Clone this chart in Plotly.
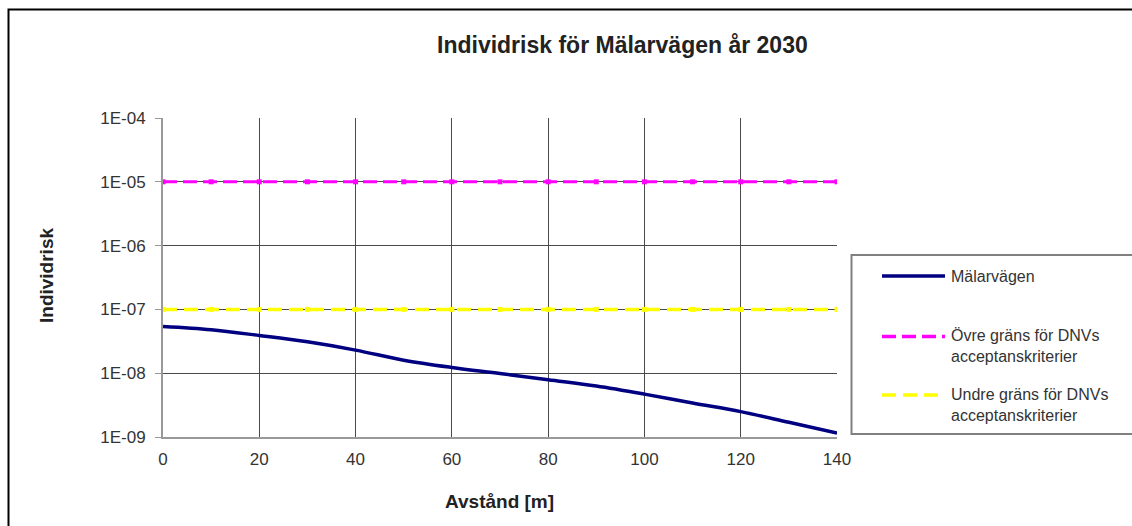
import plotly.graph_objects as go

# ---- data ----
distance_m = [0, 10, 20, 30, 40, 50, 60, 70, 80, 90, 100, 110, 120, 130, 140]
risk_malarvagen = [5.4e-8, 4.8e-8, 3.9e-8, 3.1e-8, 2.3e-8, 1.6e-8, 1.23e-8, 9.9e-9,
                   7.9e-9, 6.3e-9, 4.7e-9, 3.4e-9, 2.5e-9, 1.7e-9, 1.15e-9]
upper_limit = [1e-5] * len(distance_m)
lower_limit = [1e-7] * len(distance_m)

y_tickvals = [1e-9, 1e-8, 1e-7, 1e-6, 1e-5, 1e-4]
y_ticktext = ["1E-09", "1E-08", "1E-07", "1E-06", "1E-05", "1E-04"]
x_tickvals = [0, 20, 40, 60, 80, 100, 120, 140]

series_names = ["Mälarvägen",
                "Övre gräns för DNVs<br>acceptanskriterier",
                "Undre gräns för DNVs<br>acceptanskriterier"]
series_colors = ["#000080", "#FF00FF", "#FFFF00"]

FONT = "Liberation Sans, Arial, sans-serif"
W, H = 1132, 526
L, R, T, B = 163, 837, 118, 437


def px(xp):
    return (xp - L) / (R - L)


def py(yp):
    return (B - yp) / (B - T)


fig = go.Figure()
fig.add_trace(go.Scatter(x=distance_m, y=upper_limit, mode="lines+markers",
                         line=dict(color=series_colors[1], width=3, dash="14px,6px"),
                         marker=dict(color=series_colors[1], size=5, symbol="square"),
                         name=series_names[1], showlegend=False))
fig.add_trace(go.Scatter(x=distance_m, y=lower_limit, mode="lines+markers",
                         line=dict(color=series_colors[2], width=3.5, dash="14px,7px"),
                         marker=dict(color=series_colors[2], size=5, symbol="square"),
                         name=series_names[2], showlegend=False))
fig.add_trace(go.Scatter(x=distance_m, y=risk_malarvagen, mode="lines",
                         line=dict(color=series_colors[0], width=3.5, shape="spline"),
                         name=series_names[0], showlegend=False))

shapes = []
annotations = []
# outer chart border
shapes.append(dict(type="rect", xref="paper", yref="paper",
                   x0=px(8.5), x1=px(1200), y0=py(600), y1=py(9.5),
                   line=dict(color="black", width=2), fillcolor="rgba(0,0,0,0)"))
# legend box
shapes.append(dict(type="rect", xref="paper", yref="paper",
                   x0=px(851.5), x1=px(1200), y0=py(434), y1=py(255),
                   line=dict(color="#808080", width=2), fillcolor="white"))
leg_line_y = [276, 336.5, 395]
leg_text_y = [276, 346.3, 404.7]
leg_dash = ["solid", "14px,6px", "14px,7px"]
for name, col, ly, ty, dsh in zip(series_names, series_colors, leg_line_y, leg_text_y, leg_dash):
    shapes.append(dict(type="line", xref="paper", yref="paper",
                       x0=px(882), x1=px(945), y0=py(ly), y1=py(ly),
                       line=dict(color=col, width=3.5, dash=dsh)))
    annotations.append(dict(text=name, xref="paper", yref="paper", x=px(949), y=py(ty),
                            xanchor="left", yanchor="middle", showarrow=False, align="left",
                            font=dict(family=FONT, size=16, color="#333333")))

# titles
annotations.append(dict(text="<b>Individrisk för Mälarvägen år 2030</b>", xref="paper", yref="paper",
                        x=px(622), y=py(45), xanchor="center", yanchor="middle", showarrow=False,
                        font=dict(family=FONT, size=23, color="#222222")))
annotations.append(dict(text="<b>Avstånd [m]</b>", xref="paper", yref="paper",
                        x=px(499), y=py(501), xanchor="center", yanchor="middle", showarrow=False,
                        font=dict(family=FONT, size=19, color="#222222")))
annotations.append(dict(text="<b>Individrisk</b>", xref="paper", yref="paper",
                        x=px(46), y=py(276), xanchor="center", yanchor="middle", showarrow=False,
                        textangle=-90,
                        font=dict(family=FONT, size=19, color="#222222")))

fig.update_layout(
    width=W, height=H,
    margin=dict(l=L, r=W - R, t=T, b=H - B, pad=0),
    paper_bgcolor="white", plot_bgcolor="white",
    shapes=shapes, annotations=annotations,
    showlegend=False,
    font=dict(family=FONT, size=17, color="#333333"),
)
fig.update_xaxes(range=[0, 140], tickvals=x_tickvals, ticks="", showgrid=True,
                 gridcolor="#4a4a4a", gridwidth=1, showline=True, linecolor="#999999",
                 linewidth=2, zeroline=False, ticklabelstandoff=6,
                 tickfont=dict(family=FONT, size=17, color="#333333"))
fig.update_yaxes(type="log", range=[-9, -4], tickvals=y_tickvals, ticktext=y_ticktext,
                 ticks="outside", ticklen=6, tickcolor="#999999", showgrid=True,
                 gridcolor="#4a4a4a", gridwidth=1, showline=True, linecolor="#999999",
                 linewidth=2, zeroline=False, ticklabelstandoff=6,
                 tickfont=dict(family=FONT, size=17, color="#333333"))

fig.write_html("out.html")
